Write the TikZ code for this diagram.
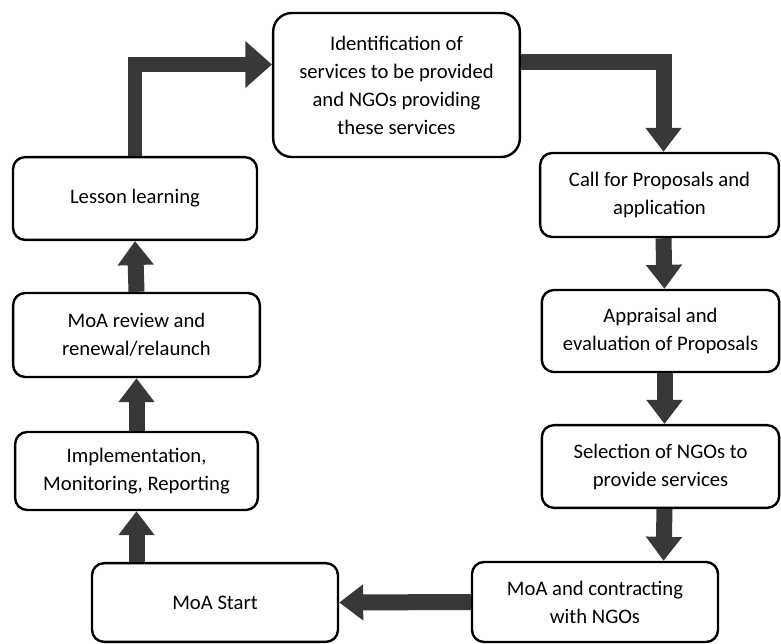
\documentclass[tikz,border=0pt]{standalone}
\usepackage{fontspec}
\setmainfont{Carlito}
\usetikzlibrary{arrows.meta,calc}
\begin{document}
\begin{tikzpicture}[x=0.75pt,y=-0.75pt,
  box/.style={draw=black,line width=1.8pt,rounded corners=9pt,align=center,
    inner sep=0pt,font=\fontsize{15.5}{21}\selectfont},
  fat/.style={draw=black!78,line width=12pt,line join=miter,
    -{Triangle[width=26pt,length=18pt]}},
  fatwide/.style={draw=black!78,line width=11pt,line join=miter,
    -{Triangle[width=34pt,length=20pt]}}]
\useasboundingbox (0,0) rectangle (781,643);
\node[box,minimum width=185pt,minimum height=108pt,rounded corners=14pt] (ident) at (396.5,85)
  {Identification of\\services to be provided\\and NGOs providing\\these services};
\node[box,minimum width=183pt,minimum height=62pt] (lesson) at (135,198.5) {Lesson learning};
\node[box,minimum width=179pt,minimum height=63pt] (call) at (659.5,195) {Call for Proposals and\\application};
\node[box,minimum width=178pt,minimum height=61.5pt] (appr) at (660.5,331) {Appraisal and\\evaluation of Proposals};
\node[box,minimum width=178pt,minimum height=62pt] (sel) at (660.5,466.5) {Selection of NGOs to\\provide services};
\node[box,minimum width=184.5pt,minimum height=60pt] (contr) at (595,602) {MoA and contracting\\with NGOs};
\node[box,minimum width=184.5pt,minimum height=59pt] (start) at (215,602.5) {MoA Start};
\node[box,minimum width=182pt,minimum height=58.5pt] (impl) at (136.5,471) {Implementation,\\Monitoring, Reporting};
\node[box,minimum width=185pt,minimum height=63pt] (review) at (136.5,335) {MoA review and\\renewal/relaunch};
\coordinate (iw) at ($(ident.north west)!0.36!(ident.south west)$);
\coordinate (ie) at ($(ident.north east)!0.34!(ident.south east)$);
\coordinate (cn) at ([xshift=3pt]call.north);
\draw[fatwide] (lesson.north) |- (iw);
\draw[fat] (ie) -| (cn);
\draw[fat] ([xshift=3pt]call.south) -- ([xshift=3pt]appr.north);
\draw[fat] ([xshift=3pt]appr.south) -- ([xshift=3pt]sel.north);
\draw[fat] ([xshift=3pt]sel.south) -- (contr.north -| cn);
\draw[fat] (contr.west) -- (start.east);
\draw[fat] (impl.south |- start.north) -- (impl.south);
\draw[fat] (impl.north) -- (review.south);
\draw[fat] (review.north) -- (lesson.south);
\end{tikzpicture}
\end{document}
